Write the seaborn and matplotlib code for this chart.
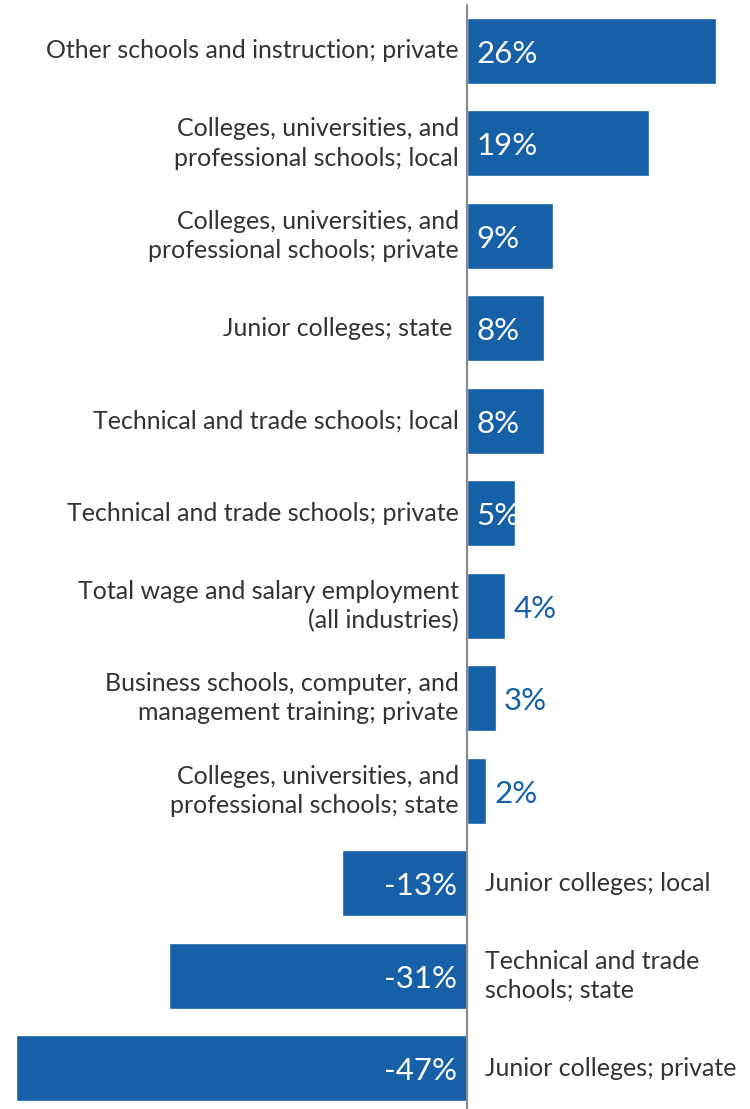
import matplotlib
matplotlib.use("Agg")
import matplotlib.pyplot as plt
import seaborn as sns
import pandas as pd

categories = [
    "Other schools and instruction; private",
    "Colleges, universities, and\nprofessional schools; local",
    "Colleges, universities, and\nprofessional schools; private",
    "Junior colleges; state ",
    "Technical and trade schools; local",
    "Technical and trade schools; private",
    "Total wage and salary employment\n(all industries)",
    "Business schools, computer, and\nmanagement training; private",
    "Colleges, universities, and\nprofessional schools; state",
    "Junior colleges; local",
    "Technical and trade\nschools; state",
    "Junior colleges; private",
]
changes = [26, 19, 9, 8, 8, 5, 4, 3, 2, -13, -31, -47]
value_labels = ["26%", "19%", "9%", "8%", "8%", "5%", "4%", "3%", "2%", "-13%", "-31%", "-47%"]

BLUE = "#1560a6"
TEXT = "#333333"

sns.set_theme(style="white")
plt.rcParams["font.family"] = ["Lato", "DejaVu Sans"]

df = pd.DataFrame({"category": categories, "change": changes})

fig = plt.figure(figsize=(7.5, 11.09), dpi=100)
ax = fig.add_axes([0, 0, 1, 1])

sns.barplot(data=df, x="change", y="category", order=categories, orient="h",
            color=BLUE, saturation=1, width=0.714, ax=ax)

ax.set_xlim(-48.65, 29.5)
ax.set_ylim(11.44, -0.55)
ax.axvline(0, ymin=0, ymax=1 - 5 / 1109, color="#8c8c8c", lw=1.6, zorder=3)

for s in ax.spines.values():
    s.set_visible(False)
ax.set_xticks([])
ax.set_yticks([])
ax.set_xlabel("")
ax.set_ylabel("")

cat_fs = 18.0
val_fs = 22.5
ls = 1.33

for i, (cat, v, lab) in enumerate(zip(categories, changes, value_labels)):
    if v >= 0:
        ax.text(-0.85, i, cat, ha="right", va="center", fontsize=cat_fs,
                color=TEXT, linespacing=ls)
        if v >= 5:
            ax.text(0.95, i + 0.03, lab, ha="left", va="center", fontsize=val_fs,
                    color="white", zorder=4)
        else:
            ax.text(v + 0.85, i + 0.03, lab, ha="left", va="center", fontsize=val_fs,
                    color=BLUE, zorder=4)
    else:
        ax.text(1.9, i, cat, ha="left", va="center", fontsize=cat_fs,
                color=TEXT, linespacing=ls)
        ax.text(-1.05, i + 0.03, lab, ha="right", va="center", fontsize=val_fs,
                color="white", zorder=4)

fig.savefig("out.png", dpi=100)
